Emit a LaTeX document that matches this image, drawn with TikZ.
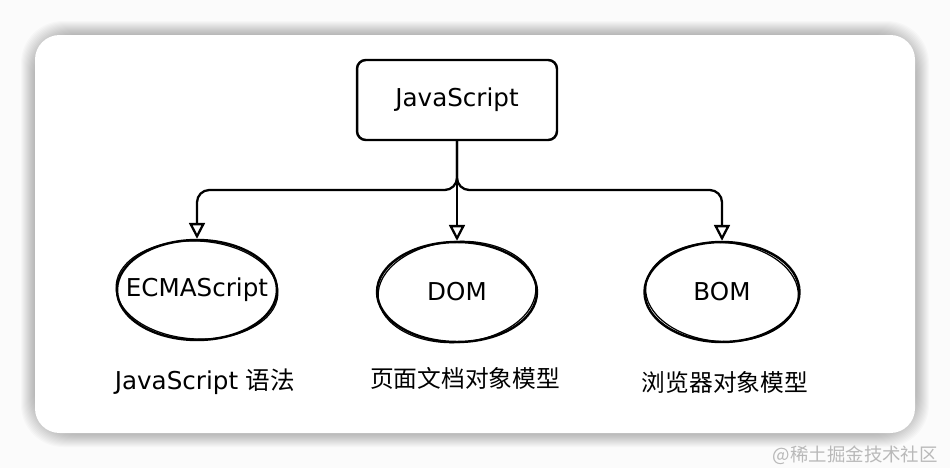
\documentclass[tikz,border=0pt]{standalone}
\usepackage{fontspec}
\setmainfont{DejaVu Sans}
\newfontfamily\cjk{Noto Sans CJK SC}
\usetikzlibrary{arrows.meta, shapes.geometric}

\tikzset{
  box/.style={draw, line width=1.4pt, rounded corners=5pt, minimum width=4cm, minimum height=1.6cm, font=\fontsize{14}{16}\selectfont},
  oval/.style={ellipse, draw, line width=1.4pt, inner sep=0pt, minimum width=3.2cm, minimum height=2cm, font=\fontsize{14}{16}\selectfont},
  link/.style={line width=1.3pt, -{Triangle[open, length=9pt, width=9pt]}, rounded corners=7pt},
  caption/.style={font=\fontsize{14}{16}\selectfont}
}

\begin{document}
\begin{tikzpicture}[x=0.02cm, y=-0.02cm]
  % card with soft shadow
  \fill[gray!3] (0,0) rectangle (950,468);
  \foreach \i in {1,...,14}
    \fill[black, opacity=0.018, rounded corners=24pt] (35-\i,35-\i) rectangle (915+\i,433+\i);
  \fill[white, rounded corners=14pt] (35,35) rectangle (915,433);

  \node[box] (js) at (457,100) {JavaScript};
  \node[oval] (ecma) at (197,290) {\makebox[0pt]{ECMAScript}};
  \node[oval] (dom) at (457,292) {DOM};
  \node[oval, minimum width=3.1cm] (bom) at (722,292) {BOM};
  % second pencil stroke
  \draw[line width=0.7pt, rotate around={-3:(ecma.center)}] (ecma.center) ellipse (1.62cm and 0.98cm);
  \draw[line width=0.7pt, rotate around={4:(dom.center)}] (dom.center) ellipse (1.58cm and 1.01cm);
  \draw[line width=0.7pt, rotate around={-4:(bom.center)}] (bom.center) ellipse (1.53cm and 0.99cm);

  \coordinate (split) at (457,190);
  \draw[link] (js.south) |- (ecma.north |- split) -- (ecma.north);
  \draw[link] (js.south) -- (dom.north);
  \draw[link] (js.south) |- (bom.north |- split) -- (bom.north);

  \node[caption] (ecmalabel) at (205,382) {JavaScript {\cjk 语法}};
  \node[caption] (domlabel) at (465,378) {\cjk\fontsize{13.5}{15}\selectfont 页面文档对象模型};
  \node[caption] (bomlabel) at (725,382) {\cjk\fontsize{13.5}{15}\selectfont 浏览器对象模型};

  \node[anchor=east, text=gray!55, font=\cjk\fontsize{10.5}{12}\selectfont] (mark) at (944,455) {@稀土掘金技术社区};
\end{tikzpicture}
\end{document}
